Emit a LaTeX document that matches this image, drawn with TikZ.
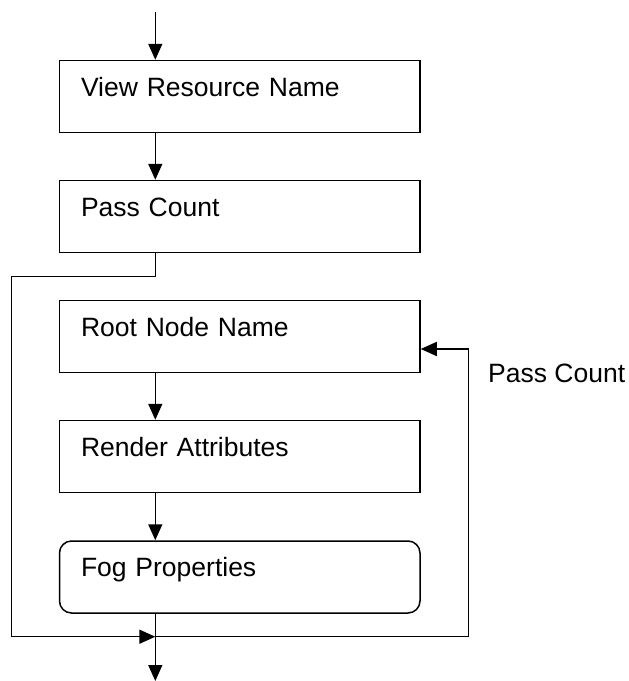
\documentclass[tikz,border=0pt]{standalone}
\usepackage{fontspec}
\setmainfont{Liberation Sans}
\usetikzlibrary{arrows.meta}
\begin{document}
\begin{tikzpicture}[x=1pt,y=-1pt,
  every node/.style={font=\fontsize{26.5}{31}\selectfont},
  boxstyle/.style={draw, line width=1.5pt, anchor=center, inner ysep=0pt, inner xsep=21.5pt,
    text width=317.5pt, align=left, text height=35.5pt, text depth=36.5pt},
  roundbox/.style={boxstyle, rounded corners=12pt},
  arr/.style={line width=1.5pt, -{Triangle[width=14pt,length=16pt]}},
  ln/.style={line width=1.5pt}]
\useasboundingbox (0,0) rectangle (629,681);
\node[boxstyle] (b1) at (239.75,96.5) {View Resource Name};
\node[boxstyle] (b2) at (239.75,216.5) {Pass Count};
\node[boxstyle] (b3) at (239.75,336.5) {Root Node Name};
\node[boxstyle] (b4) at (239.75,456.5) {Render Attributes};
\node[roundbox] (b5) at (239.75,577) {Fog Properties};
\node[anchor=base west, inner sep=0pt] (pc) at (488,382) {Pass Count};
\coordinate (in) at (155.3,12);
\coordinate (bendL) at (11.7,276.5);
\coordinate (merge) at (155.3,636.7);
\coordinate (out) at (155.3,681);
\coordinate (fb) at (468.3,349);
\draw[arr] (in) -- (b1.north -| in);
\draw[arr] (b1.south -| in) -- (b2.north -| in);
\draw[arr] (b2.south -| in) -- (in |- bendL) -- (bendL) |- (merge);
\draw[arr] (b3.south -| in) -- (b4.north -| in);
\draw[arr] (b4.south -| in) -- (b5.north -| in);
\draw[arr] (b5.south -| in) -- (out);
\draw[arr] (merge) -| (fb) -- (fb -| b3.east);
\end{tikzpicture}
\end{document}
